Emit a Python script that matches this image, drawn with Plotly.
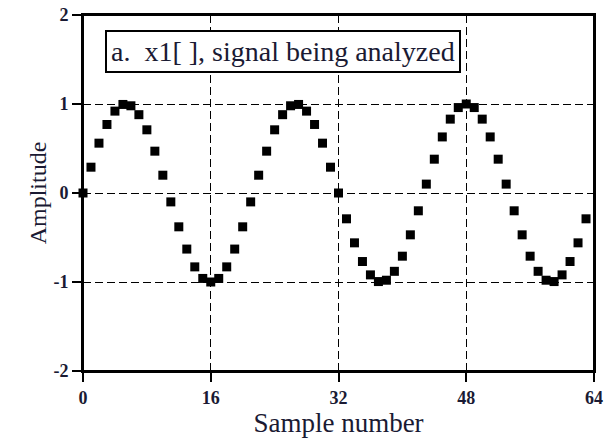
import plotly.graph_objects as go

sample_index = list(range(64))
amplitude = [
    0.00, 0.29, 0.56, 0.77, 0.92, 0.995, 0.98, 0.88, 0.71, 0.47, 0.20, -0.10,
    -0.38, -0.63, -0.83, -0.96, -1.00, -0.96, -0.83, -0.63, -0.38, -0.10,
    0.20, 0.47, 0.71, 0.88, 0.98, 0.995, 0.92, 0.77, 0.56, 0.29,
    0.00, -0.29, -0.56, -0.77, -0.92, -0.995, -0.98, -0.88, -0.71, -0.47, -0.20,
    0.10, 0.38, 0.63, 0.83, 0.96, 1.00, 0.96, 0.83, 0.63, 0.38, 0.10,
    -0.20, -0.47, -0.71, -0.88, -0.98, -0.995, -0.92, -0.77, -0.56, -0.29,
]
x_ticks = [0, 16, 32, 48, 64]
y_ticks = [-2, -1, 0, 1, 2]
title_text = "a.  x1[ ], signal being analyzed"
x_label = "Sample number"
y_label = "Amplitude"

FONT = "Liberation Serif, Times New Roman, serif"
TXT = "#1a1a33"

fig = go.Figure()
fig.add_trace(go.Scatter(
    x=sample_index, y=amplitude, mode="markers",
    marker=dict(symbol="square", size=9, color="black", line=dict(width=0)),
    showlegend=False, cliponaxis=False, hoverinfo="skip",
))

axis_common = dict(
    showline=True, linecolor="black", linewidth=2, mirror=True,
    ticks="outside", ticklen=9, tickwidth=1.5, tickcolor="black",
    showgrid=True, gridcolor="black", gridwidth=1, griddash="8px,4px",
    zeroline=False, automargin=False, ticklabeloverflow="allow",
    tickfont=dict(family=FONT, size=18, color=TXT, weight="bold"),
)

fig.update_xaxes(range=[0, 64], tickvals=x_ticks, ticktext=[str(v) for v in x_ticks],
                 title=dict(text=x_label, font=dict(family=FONT, size=27, color=TXT), standoff=6),
                 **axis_common)
fig.update_yaxes(range=[-2, 2], tickvals=y_ticks, ticktext=[str(v) for v in y_ticks],
                 title=dict(text=y_label, font=dict(family=FONT, size=24, color=TXT), standoff=0),
                 **axis_common)

# plot frame
fig.add_shape(type="rect", xref="paper", yref="paper", x0=0, x1=1, y0=0, y1=1,
              line=dict(color="black", width=2), layer="above")

fig.add_annotation(
    text=title_text, xref="paper", yref="paper", x=0.043, y=0.958,
    xanchor="left", yanchor="top", showarrow=False,
    font=dict(family=FONT, size=28, color=TXT),
    bgcolor="white", bordercolor="black", borderwidth=2, borderpad=4,
)

fig.update_layout(
    width=611, height=439,
    margin=dict(l=83, r=17, t=15, b=68),
    paper_bgcolor="white", plot_bgcolor="white",
)

fig.write_html("out.html", config={"displayModeBar": False},
               post_script="document.body.style.margin='0';")
